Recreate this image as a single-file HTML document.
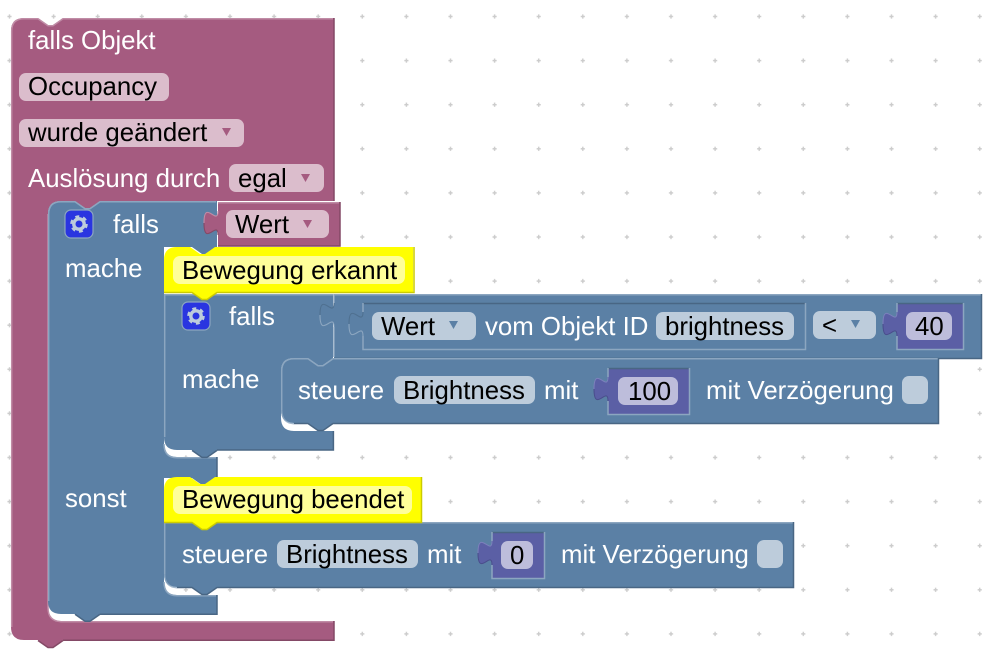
<!DOCTYPE html>
<html><head><meta charset="utf-8"><style>
html,body{margin:0;padding:0;background:#fff}
svg{display:block}
text{font-family:"Liberation Sans",Arial,sans-serif;font-size:25.8px}
.w{fill:#fff}.k{fill:#000}
.b{fill:#5b80a5}.p{fill:#a55b80}
.bl{fill:none;stroke:#8ca6c0;stroke-width:1.5}
.bd{fill:none;stroke:#496684;stroke-width:1.5}
.pl{fill:none;stroke:#c08ca6;stroke-width:1.5}
.pd{fill:none;stroke:#844966;stroke-width:1.5}
.tl{fill:none;stroke:#8ca6c0;stroke-width:1.1}
.td{fill:none;stroke:#4f7090;stroke-width:1.1}
.fb{fill:#bdccdb}.fp{fill:#dbbdcc}.fn{fill:#bdbddb}
</style></head><body>
<svg width="1000" height="660" viewBox="0 0 1000 660" xmlns="http://www.w3.org/2000/svg">
<defs>
<pattern id="g" x="-12.55" y="-5.55" width="44.1" height="44.1" patternUnits="userSpaceOnUse">
<path d="M22.05 20v4.1M20 22.05h4.1" stroke="#ccc" stroke-width="1.4"/>
</pattern>
</defs>
<rect width="1000" height="660" fill="#fff"/>
<rect width="1000" height="660" fill="url(#g)"/>

<!-- purple outer -->
<path class="p" d="M11 31Q11 18 24 18H38l10 7h5l10-7H334V201H100l-10 7h-5l-10-7H61Q48 201 48 214V608Q48 621 61 621H334V640H63l-10 7h-5l-10-7H24Q11 640 11 627Z"/>
<path class="pl" d="M11.7 627V31Q11.7 18.7 24 18.7H38l10 7h5l10-7H333"/>
<path class="pd" d="M334 18V201M63 640.5l-10 7h-5l-10-7M63 640.3H334V621"/>
<path class="pl" d="M48 214V608Q48 621 61 621.7H333"/>

<!-- blue c-block -->
<path class="b" d="M48 214Q48 201 61 201H75l10 7h5l10-7H217V247l-10 7h-5l-10-7H164V444Q164 457 177 457H217V478l-10 7h-5l-10-7H164V582Q164 595 177 595H217V614H100l-10 7h-5l-10-7H61Q48 614 48 601Z"/>
<path class="bl" d="M48.7 601V214Q48.7 201.7 61 201.7H75l10 7h5l10-7H216"/>
<path class="bd" d="M100 614.3l-10 7h-5l-10-7M100 614.3H217V595"/>
<path class="bl" d="M164 582Q164 595.7 177 595.7H216M164 444Q164 457.7 177 457.7H216"/>
<path class="bd" d="M217 457V478"/>

<!-- Wert purple value -->
<path class="p" d="M218 202H340V246H218V235c0-16-14 13-14-12s14 4 14-12Z"/>
<path class="pl" d="M218 202.7H339"/>
<path class="pd" d="M340 202V246H218"/>
<path fill="none" stroke="#844966" stroke-width="1.1" d="M218 235c0-16-14 13-14-12"/>
<path fill="none" stroke="#c08ca6" stroke-width="1.1" d="M204 223c0-25 14 4 14-12"/>
<rect class="fp" x="226" y="210" width="103" height="28" rx="7"/>
<path d="M303 220h9l-4.5 8z" fill="#a55b80"/>
<text class="k" x="235" y="233">Wert</text>

<!-- inner falls -->
<path class="b" d="M164 294H333V358l-10 7h-5l-10-7H294Q281 358 281 371V418Q281 431 294 431H333V450H217l-10 7h-5l-10-7H177Q164 450 164 437Z"/>
<path class="bl" d="M164.7 437V294"/>
<path class="bl" d="M164 294.7H333"/>
<path class="bd" d="M217 450.4l-10 7h-5l-10-7M217 450H333.4V431"/>

<!-- compare value -->
<path class="b" d="M334 294H981V358H334V327c0-16-14 13-14-12s14 4 14-12Z"/>
<path class="bl" d="M334 294.7H981M334 294V303M334 327V357"/>
<path class="tl" d="M334 327c0-16-14 13-14-12"/>
<path class="td" d="M320 315c0-25 14 4 14-12"/>
<path class="bd" d="M981.5 294V358.5H334"/>

<!-- steuere 1 -->
<path class="b" d="M294 358H308l10 7h5l10-7H938V423H333l-10 7h-5l-10-7H294Q281 423 281 410V371Q281 358 294 358Z"/>
<path class="bl" d="M281.7 410V371Q281.7 358.7 294 358.7H308l10 7h5l10-7H938"/>
<path class="bd" d="M938.5 358V423.5H333l-10 7h-5l-10-7H294"/>
<path class="bl" d="M281.7 410Q281.7 423 294 423.7" stroke-opacity=".8"/>

<!-- value: Wert vom Objekt -->
<path class="b" d="M363 303H805V349H363V336c0-16-14 13-14-12s14 4 14-12Z"/>
<path class="bd" d="M363 303.5H805"/>
<path class="bl" d="M805.5 303V349.5H363V336M363 312V303"/>
<path class="tl" d="M363 336c0-16-14 13-14-12"/>
<path class="td" d="M349 324c0-25 14 4 14-12"/>
<rect class="fb" x="372" y="312" width="104" height="28" rx="7"/>
<path d="M449 321h9l-4.5 8z" fill="#5b80a5"/>
<text class="k" x="381" y="335">Wert</text>
<text class="w" x="485" y="335">vom Objekt ID</text>
<rect class="fb" x="656" y="312" width="138" height="28" rx="7"/>
<text class="k" x="665" y="335">brightness</text>
<rect class="fb" x="813" y="311" width="63" height="28" rx="7"/>
<path d="M851 320h9l-4.5 8z" fill="#5b80a5"/>
<text class="k" x="822" y="334">&lt;</text>

<!-- number 40 -->
<path fill="#5b5fa5" d="M897 303H963V349H897V336c0-16-14 13-14-12s14 4 14-12Z"/>
<path fill="none" stroke="#496684" stroke-width="1.5" d="M897 303.5H963"/>
<path class="bl" d="M963.5 303V349.5H897V336M897 312V303"/>
<path fill="none" stroke="#7c80bc" stroke-width="1" d="M883 324c0-25 14 4 14-12"/>
<path fill="none" stroke="#4a4d8c" stroke-width="1" d="M897 336c0-16-14 13-14-12"/>
<rect class="fn" x="906" y="312" width="46" height="28" rx="7"/>
<text class="k" x="915" y="335">40</text>

<!-- number 100 -->
<path fill="#5b5fa5" d="M608 368H689V414H608V401c0-16-14 13-14-12s14 4 14-12Z"/>
<path class="bd" d="M608 368.5H689"/>
<path class="bl" d="M689.5 368V414.5H608V401M608 377V368"/>
<path fill="none" stroke="#7c80bc" stroke-width="1" d="M594 389c0-25 14 4 14-12"/>
<path fill="none" stroke="#4a4d8c" stroke-width="1" d="M608 401c0-16-14 13-14-12"/>
<rect class="fn" x="618" y="377" width="60" height="28" rx="7"/>
<text class="k" x="628" y="400">100</text>

<text class="w" x="298" y="399">steuere</text>
<rect class="fb" x="394" y="376" width="141" height="28" rx="7"/>
<text class="k" x="403" y="399">Brightness</text>
<text class="w" x="544" y="399">mit</text>
<text class="w" x="706" y="399">mit Verzögerung</text>
<rect class="fb" x="902" y="376" width="26" height="28" rx="7"/>

<!-- steuere 2 -->
<path class="b" d="M164 522H793V587H217l-10 7h-5l-10-7H177Q164 587 164 574Z"/>
<path class="bl" d="M164.7 574V522M164 522.7H793"/>
<path class="bd" d="M793.5 522V587.5H217l-10 7h-5l-10-7H177"/>
<path class="bl" d="M164.7 574Q164.7 587 177 587.7" stroke-opacity=".8"/>
<path fill="#5b5fa5" d="M492 532H544V578H492V565c0-16-14 13-14-12s14 4 14-12Z"/>
<path class="bd" d="M492 532.5H544"/>
<path class="bl" d="M544.5 532V578.5H492V565M492 541V532"/>
<path fill="none" stroke="#7c80bc" stroke-width="1" d="M478 553c0-25 14 4 14-12"/>
<path fill="none" stroke="#4a4d8c" stroke-width="1" d="M492 565c0-16-14 13-14-12"/>
<rect class="fn" x="501" y="541" width="32" height="28" rx="7"/>
<text class="k" x="510" y="564">0</text>
<text class="w" x="182" y="563">steuere</text>
<rect class="fb" x="277" y="540" width="141" height="28" rx="7"/>
<text class="k" x="286" y="563">Brightness</text>
<text class="w" x="427" y="563">mit</text>
<text class="w" x="561" y="563">mit Verzögerung</text>
<rect class="fb" x="757" y="540" width="26" height="28" rx="7"/>

<!-- yellow 1 -->
<path fill="#ff0" d="M164 260Q164 247 177 247H190l10 7h5l10-7H413V292H217l-10 7h-5l-10-7H164Z"/>
<path fill="none" stroke="#cccc00" stroke-width="1.5" d="M414 247V292.5H217l-10 7h-5l-10-7H164" />
<rect x="173" y="256" width="232" height="28" rx="7" fill="#ffff99"/>
<text class="k" x="182" y="279">Bewegung erkannt</text>

<!-- yellow 2 -->
<path fill="#ff0" d="M164 490Q164 477 177 477H190l10 7h5l10-7H421V522H217l-10 7h-5l-10-7H164Z"/>
<path fill="none" stroke="#cccc00" stroke-width="1.5" d="M421.5 477V522.5H217l-10 7h-5l-10-7H164"/>
<rect x="173" y="486" width="239" height="28" rx="7" fill="#ffff99"/>
<text class="k" x="182" y="508">Bewegung beendet</text>

<!-- purple head text -->
<text class="w" x="28" y="49">falls Objekt</text>
<rect class="fp" x="19" y="73" width="150" height="28" rx="7"/>
<text class="k" x="28" y="95">Occupancy</text>
<rect class="fp" x="19" y="119" width="225" height="28" rx="7"/>
<text class="k" x="28" y="141">wurde geändert</text>
<path d="M222 128h9l-4.5 8z" fill="#a55b80"/>
<text class="w" x="28" y="187">Auslösung durch</text>
<rect class="fp" x="229" y="164" width="95" height="28" rx="7"/>
<text class="k" x="238" y="187">egal</text>
<path d="M301 174h9l-4.5 8z" fill="#a55b80"/>

<!-- blue labels -->
<text class="w" x="113" y="233">falls</text>
<text class="w" x="65" y="277">mache</text>
<text class="w" x="65" y="507">sonst</text>
<text class="w" x="229" y="325">falls</text>
<text class="w" x="182" y="388">mache</text>

<!-- gears -->
<g transform="translate(79 224)">
<rect x="-14" y="-14" width="28" height="28" rx="6" fill="#2a35e0" stroke="#8ca6c0" stroke-width="1.2"/>
<circle r="5.2" fill="none" stroke="#bdccdb" stroke-width="3.4"/>
<circle r="7.6" fill="none" stroke="#bdccdb" stroke-width="2.4" stroke-dasharray="4 3.96"/>
</g>
<g transform="translate(196 316)">
<rect x="-14" y="-14" width="28" height="28" rx="6" fill="#2a35e0" stroke="#8ca6c0" stroke-width="1.2"/>
<circle r="5.2" fill="none" stroke="#bdccdb" stroke-width="3.4"/>
<circle r="7.6" fill="none" stroke="#bdccdb" stroke-width="2.4" stroke-dasharray="4 3.96"/>
</g>
</svg>
</body></html>
